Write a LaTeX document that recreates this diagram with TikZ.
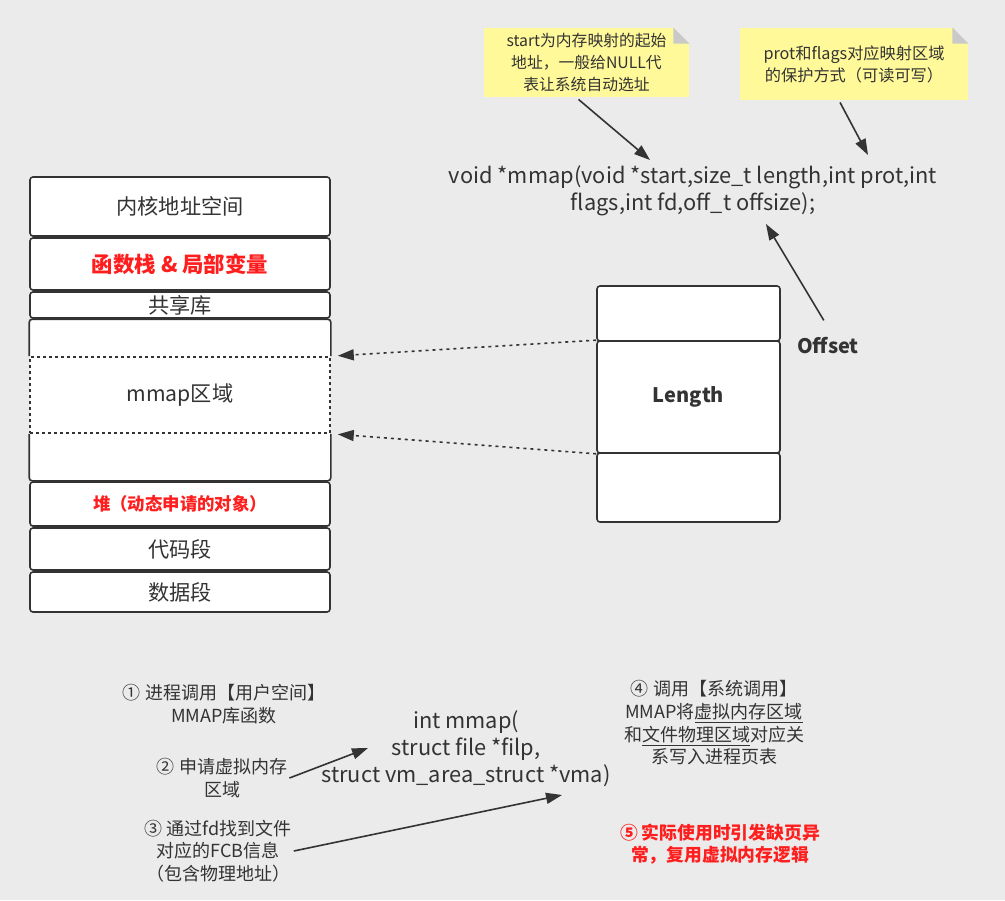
\documentclass[tikz,border=0pt]{standalone}
\usepackage{fontspec}
\setmainfont{Noto Sans CJK SC}
\usetikzlibrary{arrows.meta, positioning}
\definecolor{bg}{HTML}{EBEBEB}
\definecolor{ink}{HTML}{333333}
\definecolor{hot}{HTML}{FF1E1E}
\definecolor{notey}{HTML}{FFF99A}
\definecolor{fold}{HTML}{C9C9C9}
\tikzstyle{seg}=[draw=ink,fill=white,rectangle,rounded corners=1.5pt,line width=0.8pt,minimum width=150pt,inner sep=1pt,text=ink,font=\fontsize{10.6}{12}\selectfont]
\tikzstyle{hotseg}=[seg,text=hot,font=\bfseries\fontsize{10.7}{12}\selectfont]
\tikzstyle{lenseg}=[seg,minimum width=91.5pt]
\tikzstyle{note}=[fill=notey,rectangle,inner sep=0pt,text=ink,align=center,font=\fontsize{7.9}{11}\selectfont]
\tikzstyle{txt}=[text=ink,align=center,inner sep=1pt,font=\fontsize{9}{11.3}\selectfont]
\tikzstyle{hottxt}=[txt,text=hot,font=\bfseries\fontsize{8.9}{11.3}\selectfont]
\tikzstyle{code}=[text=ink,align=center,inner sep=1pt,font=\fontsize{10.9}{13.5}\selectfont]
\tikzstyle{arr}=[draw=ink,line width=0.8pt,-{Triangle[length=8pt,width=5.5pt]}]
\tikzstyle{darr}=[arr,dash pattern=on 1.5pt off 2pt]

\begin{document}
\begin{tikzpicture}[x=0.5pt,y=-0.5pt]
    \fill[bg] (0,0) rectangle (1005,900);
    \useasboundingbox (0,0) rectangle (1005,900);
    % address space of the process
    \node[seg, minimum height=29.5pt] (kern) at (180,206.5) {内核地址空间};
    \node[hotseg, minimum height=26pt] (stk) at (180,264) {函数栈 \& 局部变量};
    \node[seg, minimum height=13pt] (lib) at (180,305) {共享库};
    \node[seg, draw=none, minimum height=80pt] (gap) at (180,400) {};
    \node[seg, rounded corners=0pt, dash pattern=on 1.5pt off 1.5pt, minimum height=38pt] (mreg) at (180,395) {mmap区域};
    \draw[ink, line width=0.8pt, rounded corners=1.5pt] (mreg.north west) -- (gap.north west) -- (gap.north east) -- (mreg.north east);
    \draw[ink, line width=0.8pt, rounded corners=1.5pt] (mreg.south west) -- (gap.south west) -- (gap.south east) -- (mreg.south east);
    \node[hotseg, minimum height=22pt, font=\bfseries\fontsize{8.7}{10}\selectfont] (heap) at (180,504) {堆（动态申请的对象）};
    \node[seg, minimum height=21pt] (text) at (180,549) {代码段};
    \node[seg, minimum height=20pt] (data) at (180,592) {数据段};
    % the mapped file
    \node[lenseg, minimum height=27.5pt] (ftop) at (688.5,313.5) {};
    \node[lenseg, minimum height=56pt, font=\bfseries\fontsize{10}{12}\selectfont] (len) at (688.5,397) {Length};
    \node[lenseg, minimum height=34.5pt] (fbot) at (688.5,487.5) {};
    \node[text=ink, font=\bfseries\fontsize{10}{12}\selectfont] (off) at (828,346) {Offset};
    \draw[darr, shorten >=3.5pt] (len.north west) -- (mreg.north east);
    \draw[darr, shorten >=3.5pt] (len.south west) -- (mreg.south east);
    % prototype and notes
    \node[code] (fn) at (693,190.5) {void *mmap(void *start,size\_t length,int prot,int\\flags,int fd,off\_t offsize);};
    \node[note, minimum width=102.5pt, minimum height=34.5pt] (n1) at (586.5,62.5) {start为内存映射的起始\\地址，一般给NULL代\\表让系统自动选址};
    \node[note, minimum width=114pt, minimum height=36pt, font=\fontsize{8.1}{11}\selectfont] (n2) at (854,64) {prot和flags对应映射区域\\的保护方式（可读可写）};
    \foreach \n in {n1,n2} {
        \fill[bg] ([xshift=-8pt]\n.north east) -- (\n.north east) -- ([yshift=-8pt]\n.north east) -- cycle;
        \fill[fold] ([xshift=-8pt]\n.north east) -- ([yshift=-8pt]\n.north east) -- ([shift={(-8pt,-8pt)}]\n.north east) -- cycle;
    }
    \coordinate (fnA) at (650,160);
    \coordinate (fnB) at (868,155);
    \coordinate (fnC) at (766,224);
    \draw[arr] ([xshift=-4pt,yshift=-1pt]n1.south) -- (fnA);
    \draw[arr] ([xshift=-7pt,yshift=-1pt]n2.south) -- (fnB);
    \draw[arr, shorten <=6pt] ([xshift=1pt]off.north) -- (fnC);
    % steps of the call
    \node[txt] (s1) at (224,704) {① 进程调用【用户空间】\\MMAP库函数};
    \node[txt] (s2) at (222,778) {② 申请虚拟内存\\区域};
    \node[txt] (s3) at (218,851) {③ 通过fd找到文件\\对应的FCB信息\\（包含物理地址）};
    \node[code] (vm) at (466,749) {int mmap(\\struct file *filp,\\struct vm\_area\_struct *vma)};
    \node[txt] (s4) at (714,723) {④ 调用【系统调用】\\MMAP将\underline{虚拟内存区域}\\和\underline{文件物理区域}对应关\\系写入进程页表};
    \node[hottxt] (s5) at (720,844) {⑤ 实际使用时引发缺页异\\常，复用虚拟内存逻辑};
    \coordinate (vmA) at (368,748);
    \coordinate (vmB) at (562,795);
    \draw[arr] (s2.east) -- (vmA);
    \draw[arr] (s3.east) -- (vmB);
\end{tikzpicture}
\end{document}
